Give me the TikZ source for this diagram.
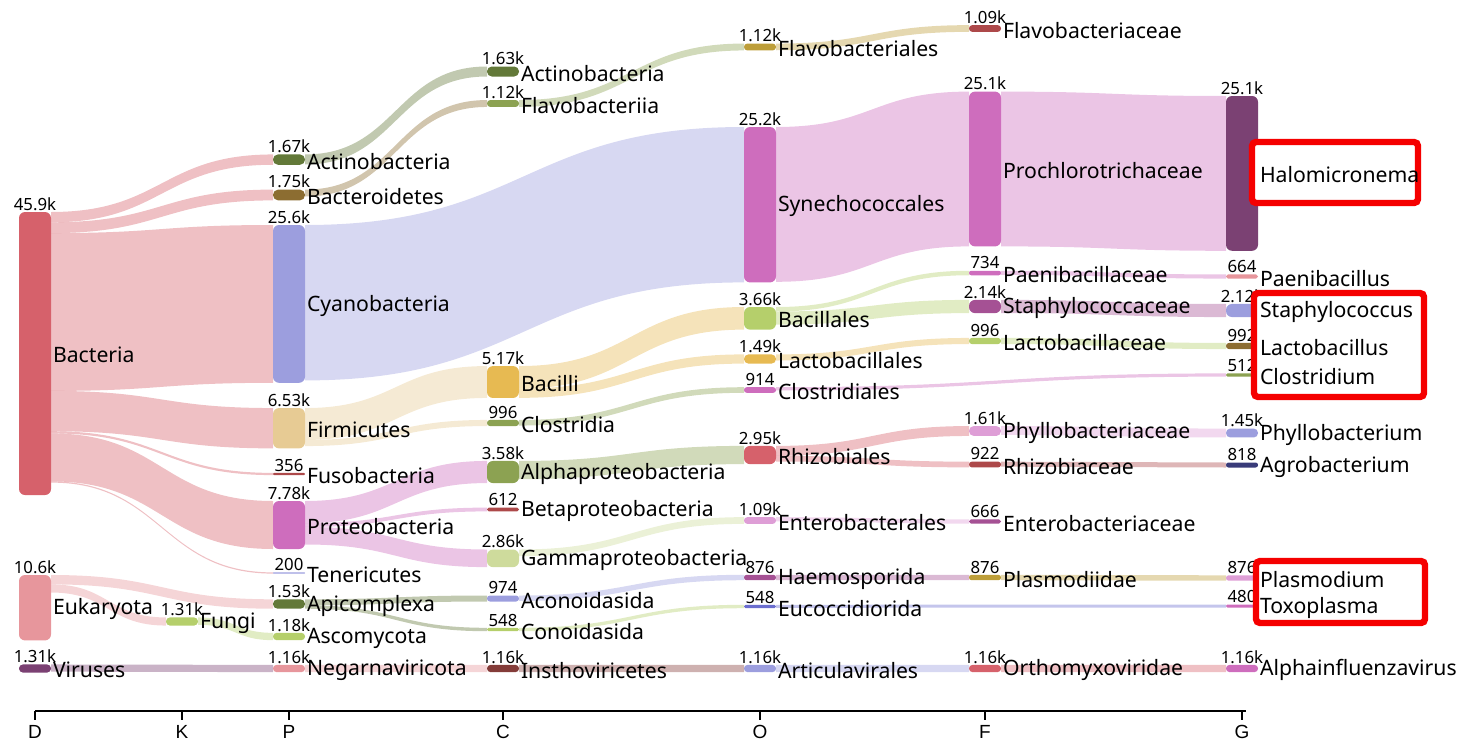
\documentclass[tikz,border=0pt]{standalone}
\usepackage{fontspec}
\setmainfont{Noto Sans}
\newfontfamily\axisfont{Liberation Sans}
\usepackage{tikz}
\usetikzlibrary{calc}
\pgfdeclarelayer{flows}
\pgfsetlayers{flows,main}

\definecolor{rosered}{HTML}{D6616B}
\definecolor{darkred}{HTML}{AD494A}
\definecolor{brickred}{HTML}{843C39}
\definecolor{rosepink}{HTML}{E7969C}
\definecolor{plum}{HTML}{7B4173}
\definecolor{magenta}{HTML}{CE6DBD}
\definecolor{orchid}{HTML}{DE9ED6}
\definecolor{mauve}{HTML}{A55194}
\definecolor{olive}{HTML}{637939}
\definecolor{moss}{HTML}{8CA252}
\definecolor{lime}{HTML}{B5CF6B}
\definecolor{palelime}{HTML}{CEDB9C}
\definecolor{brown}{HTML}{8C6D31}
\definecolor{mustard}{HTML}{BD9E39}
\definecolor{gold}{HTML}{E7BA52}
\definecolor{sand}{HTML}{E7CB94}
\definecolor{navy}{HTML}{393B79}
\definecolor{periwinkle}{HTML}{6B6ECF}
\definecolor{lavender}{HTML}{9C9EDE}
\definecolor{alertred}{HTML}{F50000}

\tikzset{
  taxon/.style={rectangle, fill=#1, draw=none, minimum width=16pt, inner sep=0pt, outer sep=0pt},
  ht/.style={minimum height={#1*0.5pt}, rounded corners={min(3,#1*0.24)*1pt}},
  vallab/.style={font=\fontsize{8.4}{9}\selectfont, inner sep=0.6pt, label distance=0pt},
  namelab/.style={font=\fontsize{10.6}{12}\selectfont, inner sep=0.8pt, label distance=0pt, yshift=-0.8pt},
  bandfill/.style={fill=#1, fill opacity=0.4},
  callout/.style={draw=alertred, fill=white, line width=3.2pt, rounded corners=2pt, inner sep=0pt},
  axislab/.style={font=\axisfont\fontsize{9.5}{11}\selectfont, inner sep=2.5pt}
}

\newcommand{\band}[6]{%
  \begin{pgfonlayer}{flows}
  \path ($(#1.north east)+(0,#2)$) coordinate (ba) ($(#1.north east)+(0,#2+#5)$) coordinate (bb)
        ($(#3.north west)+(0,#4)$) coordinate (bc) ($(#3.north west)+(0,#4+#5)$) coordinate (bd);
  \path ($(ba)!.5!(bc)$) coordinate (bm);
  \fill[bandfill=#6] (ba) .. controls (ba -| bm) and (bc -| bm) .. (bc) -- (bd)
    .. controls (bd -| bm) and (bb -| bm) .. (bb) -- cycle;
  \end{pgfonlayer}}

\begin{document}
\begin{tikzpicture}[x=0.5pt,y=-0.5pt]
\useasboundingbox (0,0) rectangle (1459,744);

% domain
\node[taxon=rosered, ht=283, label={[vallab]above:45.9k}, label={[namelab]right:Bacteria}] (bact) at (35,353.5) {};
\node[taxon=rosepink, ht=65.4, label={[vallab]above:10.6k}, label={[namelab]right:Eukaryota}] (euk) at (35,607.7) {};
\node[taxon=plum, ht=8.1, label={[vallab]above:1.31k}, label={[namelab]right:Viruses}] (vir) at (35,668.5) {};
% kingdom
\node[taxon=lime, ht=8.1, label={[vallab]above:1.31k}, label={[namelab]right:Fungi}] (fungi) at (182,621.5) {};
% phylum
\node[taxon=olive, ht=10.3, label={[vallab]above:1.67k}, label={[namelab]right:Actinobacteria}] (pactino) at (289,159.6) {};
\node[taxon=brown, ht=10.8, label={[vallab]above:1.75k}, label={[namelab]right:Bacteroidetes}] (pbactero) at (289,195) {};
\node[taxon=lavender, ht=157.8, label={[vallab]above:25.6k}, label={[namelab]right:Cyanobacteria}] (pcyano) at (289,303.9) {};
\node[taxon=sand, ht=40.3, label={[vallab]above:6.53k}, label={[namelab]right:Firmicutes}] (pfirmi) at (289,428.2) {};
\node[taxon=darkred, ht=2.2, label={[vallab]above:356}, label={[namelab]right:Fusobacteria}] (pfuso) at (289,474) {};
\node[taxon=magenta, ht=48, label={[vallab]above:7.78k}, label={[namelab]right:Proteobacteria}] (pproteo) at (289,525) {};
\node[taxon=lavender, ht=1.2, label={[vallab]above:200}, label={[namelab]right:Tenericutes}] (pteneri) at (289,573) {};
\node[taxon=olive, ht=9.4, label={[vallab]above:1.53k}, label={[namelab]right:Apicomplexa}] (papicom) at (289,604) {};
\node[taxon=lime, ht=7.3, label={[vallab]above:1.18k}, label={[namelab]right:Ascomycota}] (pascomy) at (289,636.5) {};
\node[taxon=rosepink, ht=7.2, label={[vallab]above:1.16k}, label={[namelab]right:Negarnaviricota}] (pnegarna) at (289,668.5) {};
% class
\node[taxon=olive, ht=10, label={[vallab]above:1.63k}, label={[namelab]right:Actinobacteria}] (cactino) at (503,71.5) {};
\node[taxon=moss, ht=6.9, label={[vallab]above:1.12k}, label={[namelab]right:Flavobacteriia}] (cflavo) at (503,103.5) {};
\node[taxon=gold, ht=31.9, label={[vallab]above:5.17k}, label={[namelab]right:Bacilli}] (cbacilli) at (503,382) {};
\node[taxon=moss, ht=6.1, label={[vallab]above:996}, label={[namelab]right:Clostridia}] (cclostr) at (503,423) {};
\node[taxon=moss, ht=22.1, label={[vallab]above:3.58k}, label={[namelab]right:Alphaproteobacteria}] (calpha) at (503,472) {};
\node[taxon=darkred, ht=3.8, label={[vallab]above:612}, label={[namelab]right:Betaproteobacteria}] (cbeta) at (503,509.5) {};
\node[taxon=palelime, ht=17.6, label={[vallab]above:2.86k}, label={[namelab]right:Gammaproteobacteria}] (cgamma) at (503,558.3) {};
\node[taxon=lavender, ht=6, label={[vallab]above:974}, label={[namelab]right:Aconoidasida}] (caconoid) at (503,598.5) {};
\node[taxon=lime, ht=3.4, label={[vallab]above:548}, label={[namelab]right:Conoidasida}] (cconoid) at (503,629.5) {};
\node[taxon=brickred, ht=7.2, label={[vallab]above:1.16k}, label={[namelab]right:Insthoviricetes}] (cinstho) at (503,668.5) {};
% order
\node[taxon=mustard, ht=6.9, label={[vallab]above:1.12k}, label={[namelab]right:Flavobacteriales}] (oflavo) at (760,47) {};
\node[taxon=magenta, ht=155.4, label={[vallab]above:25.2k}, label={[namelab]right:Synechococcales}] (osyne) at (760,204.7) {};
\node[taxon=lime, ht=22.6, label={[vallab]above:3.66k}, label={[namelab]right:Bacillales}] (obacill) at (760,318.3) {};
\node[taxon=gold, ht=9.2, label={[vallab]above:1.49k}, label={[namelab]right:Lactobacillales}] (olacto) at (760,359) {};
\node[taxon=magenta, ht=5.6, label={[vallab]above:914}, label={[namelab]right:Clostridiales}] (oclostr) at (760,390) {};
\node[taxon=rosered, ht=18.2, label={[vallab]above:2.95k}, label={[namelab]right:Rhizobiales}] (orhizo) at (760,455) {};
\node[taxon=orchid, ht=6.7, label={[vallab]above:1.09k}, label={[namelab]right:Enterobacterales}] (oentero) at (760,520.5) {};
\node[taxon=mauve, ht=5.4, label={[vallab]above:876}, label={[namelab]right:Haemosporida}] (ohaemo) at (760,577.5) {};
\node[taxon=periwinkle, ht=3.4, label={[vallab]above:548}, label={[namelab]right:Eucoccidiorida}] (oeucocc) at (760,606.5) {};
\node[taxon=lavender, ht=7.2, label={[vallab]above:1.16k}, label={[namelab]right:Articulavirales}] (oarticu) at (760,668.5) {};
% family
\node[taxon=darkred, ht=6.7, label={[vallab]above:1.09k}, label={[namelab]right:Flavobacteriaceae}] (fflavo) at (985,28.5) {};
\node[taxon=magenta, ht=154.8, label={[vallab]above:25.1k}, label={[namelab]right:Prochlorotrichaceae}] (fprochl) at (985,169) {};
\node[taxon=magenta, ht=4.5, label={[vallab]above:734}, label={[namelab]right:Paenibacillaceae}] (fpaeni) at (985,273) {};
\node[taxon=mauve, ht=13.2, label={[vallab]above:2.14k}, label={[namelab]right:Staphylococcaceae}] (fstaph) at (985,306.5) {};
\node[taxon=lime, ht=6.1, label={[vallab]above:996}, label={[namelab]right:Lactobacillaceae}] (flacto) at (985,341) {};
\node[taxon=orchid, ht=9.9, label={[vallab]above:1.61k}, label={[namelab]right:Phyllobacteriaceae}] (fphyllo) at (985,431) {};
\node[taxon=darkred, ht=5.7, label={[vallab]above:922}, label={[namelab]right:Rhizobiaceae}] (frhizo) at (985,464.5) {};
\node[taxon=mauve, ht=4.1, label={[vallab]above:666}, label={[namelab]right:Enterobacteriaceae}] (fentero) at (985,521.5) {};
\node[taxon=mustard, ht=5.4, label={[vallab]above:876}, label={[namelab]right:Plasmodiidae}] (fplasmo) at (985,577.5) {};
\node[taxon=rosered, ht=7.2, label={[vallab]above:1.16k}, label={[namelab]right:Orthomyxoviridae}] (fortho) at (985,668.5) {};
% genus
\node[taxon=plum, ht=154.8, label={[vallab]above:25.1k}] (ghalo) at (1242,173.4) {};
\node[taxon=rosepink, ht=4.1, label={[vallab]above:664}, label={[namelab]right:Paenibacillus}] (gpaeni) at (1242,276.5) {};
\node[taxon=lavender, ht=13.1, label={[vallab]above:2.12k}] (gstaph) at (1242,310.5) {};
\node[taxon=brown, ht=6.1, label={[vallab]above:992}] (glacto) at (1242,346) {};
\node[taxon=moss, ht=3.2, label={[vallab]above:512}] (gclostr) at (1242,375) {};
\node[taxon=lavender, ht=8.9, label={[vallab]above:1.45k}, label={[namelab]right:Phyllobacterium}] (gphyllo) at (1242,433) {};
\node[taxon=navy, ht=5, label={[vallab]above:818}, label={[namelab]right:Agrobacterium}] (gagro) at (1242,465) {};
\node[taxon=orchid, ht=5.4, label={[vallab]above:876}] (gplasmo) at (1242,578) {};
\node[taxon=magenta, ht=3, label={[vallab]above:480}] (gtoxo) at (1242,606) {};
\node[taxon=magenta, ht=7.2, label={[vallab]above:1.16k}, label={[namelab]right:Alphainfluenzavirus}] (galpha) at (1242,668.5) {};

% links
\band{bact}{0}{pactino}{0}{10.3}{rosered}
\band{bact}{10.3}{pbactero}{0}{10.8}{rosered}
\band{bact}{21.1}{pcyano}{0}{157.8}{rosered}
\band{bact}{178.9}{pfirmi}{0}{40.3}{rosered}
\band{bact}{219.2}{pfuso}{0}{2.2}{rosered}
\band{bact}{221.4}{pproteo}{0}{48}{rosered}
\band{bact}{269.4}{pteneri}{0}{1.2}{rosered}
\band{euk}{0}{papicom}{0}{9.4}{rosepink}
\band{euk}{9.4}{fungi}{0}{8.1}{rosepink}
\band{vir}{0}{pnegarna}{0}{7.2}{plum}
\band{fungi}{0}{pascomy}{0}{7.3}{lime}

\band{pactino}{0}{cactino}{0}{10}{olive}
\band{pbactero}{0}{cflavo}{0}{6.9}{brown}
\band{pcyano}{0}{osyne}{0}{155.4}{lavender}
\band{pfirmi}{0}{cbacilli}{0}{31.9}{sand}
\band{pfirmi}{31.9}{cclostr}{0}{6.1}{sand}
\band{pproteo}{0}{calpha}{0}{22.1}{magenta}
\band{pproteo}{22.1}{cbeta}{0}{3.8}{magenta}
\band{pproteo}{25.9}{cgamma}{0}{17.6}{magenta}
\band{papicom}{0}{caconoid}{0}{6}{olive}
\band{papicom}{6}{cconoid}{0}{3.4}{olive}
\band{pnegarna}{0}{cinstho}{0}{7.2}{rosepink}

\band{cflavo}{0}{oflavo}{0}{6.9}{moss}
\band{cbacilli}{0}{obacill}{0}{22.6}{gold}
\band{cbacilli}{22.6}{olacto}{0}{9.2}{gold}
\band{cclostr}{0}{oclostr}{0}{5.6}{moss}
\band{calpha}{0}{orhizo}{0}{18.2}{moss}
\band{cgamma}{0}{oentero}{0}{6.7}{palelime}
\band{caconoid}{0}{ohaemo}{0}{5.4}{lavender}
\band{cconoid}{0}{oeucocc}{0}{3.4}{lime}
\band{cinstho}{0}{oarticu}{0}{7.2}{brickred}

\band{oflavo}{0}{fflavo}{0}{6.7}{mustard}
\band{osyne}{0}{fprochl}{0}{154.8}{magenta}
\band{obacill}{0}{fpaeni}{0}{4.5}{lime}
\band{obacill}{4.5}{fstaph}{0}{13.2}{lime}
\band{olacto}{0}{flacto}{0}{6.1}{gold}
\band{oclostr}{0}{gclostr}{0}{3.2}{magenta}
\band{orhizo}{0}{fphyllo}{0}{9.9}{rosered}
\band{orhizo}{9.9}{frhizo}{0}{5.7}{rosered}
\band{oentero}{0}{fentero}{0}{4.1}{orchid}
\band{ohaemo}{0}{fplasmo}{0}{5.4}{mauve}
\band{oeucocc}{0}{gtoxo}{0}{3}{periwinkle}
\band{oarticu}{0}{fortho}{0}{7.2}{lavender}

\band{fprochl}{0}{ghalo}{0}{154.8}{magenta}
\band{fpaeni}{0}{gpaeni}{0}{4.1}{magenta}
\band{fstaph}{0}{gstaph}{0}{13.1}{mauve}
\band{flacto}{0}{glacto}{0}{6.1}{lime}
\band{fphyllo}{0}{gphyllo}{0}{8.9}{orchid}
\band{frhizo}{0}{gagro}{0}{5}{darkred}
\band{fplasmo}{0}{gplasmo}{0}{5.4}{mustard}
\band{fortho}{0}{galpha}{0}{7.2}{rosered}

% highlighted genera
\node[callout, minimum width=83pt, minimum height=30.5pt] (box1) at (1335,172.5) {};
\node[callout, minimum width=85pt, minimum height=52pt] (box2) at (1339,345) {};
\node[callout, minimum width=84.5pt, minimum height=31pt] (box3) at (1340.5,592) {};
\node[namelab, anchor=west] (nhalo) at (ghalo.east) {Halomicronema};
\node[namelab, anchor=west] (nstaph) at (gstaph.east) {Staphylococcus};
\node[namelab, anchor=west] (nlacto) at (glacto.east) {Lactobacillus};
\node[namelab, anchor=west] (nclostr) at (gclostr.east) {Clostridium};
\node[namelab, anchor=west] (nplasmo) at (gplasmo.east) {Plasmodium};
\node[namelab, anchor=west] (ntoxo) at (gtoxo.east) {Toxoplasma};

% rank axis
\draw[line width=0.8pt] (35,711) -- (1246,711);
\foreach \x/\r in {35/D,182/K,289/P,503/C,760/O,985/F,1242/G}
  \draw[line width=0.6pt] (\x,711) -- (\x,720) node[axislab, below] (ax\r) {\r};
\end{tikzpicture}
\end{document}
